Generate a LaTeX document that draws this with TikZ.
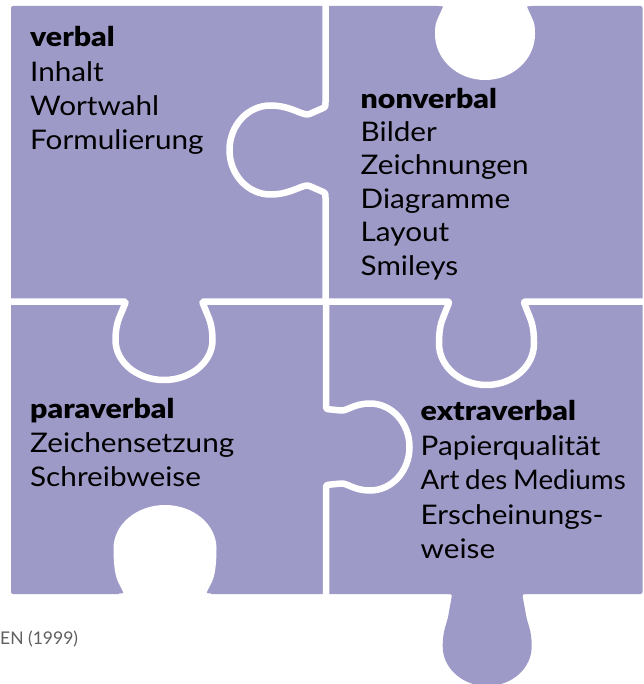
\documentclass[tikz,border=0pt]{standalone}
\usepackage{fontspec}
\setmainfont{Lato}
\newfontfamily\bodyfont{Lato}[FakeStretch=1.1]
\newfontfamily\headfont{Lato Black}[FakeStretch=1.12]
\definecolor{puzzle}{RGB}{158,154,200}
\definecolor{srcgray}{RGB}{95,95,95}
% knob along a horizontal seam: centre, seam y, sign, neck, narrow, narrow depth, bulb, bulb depth, tip depth
\def\KH#1#2#3#4#5#6#7#8#9{%
 -- ({#1-(#4)-5},{#2})
 .. controls ({#1-(#4)},{#2}) .. ({#1-(#4)+0.25*((#4)-(#5))},{#2+(#3)*0.25*(#6)})
 -- ({#1-(#5)},{#2+(#3)*(#6)})
 .. controls ({#1-(#5)+0.4*((#4)-(#5))},{#2+(#3)*1.4*(#6)}) and ({#1-(#7)},{#2+(#3)*((#8)-0.55*((#8)-(#6)))}) .. ({#1-(#7)},{#2+(#3)*(#8)})
 .. controls ({#1-(#7)},{#2+(#3)*((#8)+0.5523*((#9)-(#8)))}) and ({#1-0.5523*(#7)},{#2+(#3)*(#9)}) .. ({#1},{#2+(#3)*(#9)})
 .. controls ({#1+0.5523*(#7)},{#2+(#3)*(#9)}) and ({#1+(#7)},{#2+(#3)*((#8)+0.5523*((#9)-(#8)))}) .. ({#1+(#7)},{#2+(#3)*(#8)})
 .. controls ({#1+(#7)},{#2+(#3)*((#8)-0.55*((#8)-(#6)))}) and ({#1+(#5)-0.4*((#4)-(#5))},{#2+(#3)*1.4*(#6)}) .. ({#1+(#5)},{#2+(#3)*(#6)})
 -- ({#1+(#4)-0.25*((#4)-(#5))},{#2+(#3)*0.25*(#6)})
 .. controls ({#1+(#4)},{#2}) .. ({#1+(#4)+5},{#2})}
% same knob along a vertical seam (coordinates swapped)
\def\KV#1#2#3#4#5#6#7#8#9{%
 -- ({#2},{#1-(#4)-5})
 .. controls ({#2},{#1-(#4)}) .. ({#2+(#3)*0.25*(#6)},{#1-(#4)+0.25*((#4)-(#5))})
 -- ({#2+(#3)*(#6)},{#1-(#5)})
 .. controls ({#2+(#3)*1.4*(#6)},{#1-(#5)+0.4*((#4)-(#5))}) and ({#2+(#3)*((#8)-0.55*((#8)-(#6)))},{#1-(#7)}) .. ({#2+(#3)*(#8)},{#1-(#7)})
 .. controls ({#2+(#3)*((#8)+0.5523*((#9)-(#8)))},{#1-(#7)}) and ({#2+(#3)*(#9)},{#1-0.5523*(#7)}) .. ({#2+(#3)*(#9)},{#1})
 .. controls ({#2+(#3)*(#9)},{#1+0.5523*(#7)}) and ({#2+(#3)*((#8)+0.5523*((#9)-(#8)))},{#1+(#7)}) .. ({#2+(#3)*(#8)},{#1+(#7)})
 .. controls ({#2+(#3)*((#8)-0.55*((#8)-(#6)))},{#1+(#7)}) and ({#2+(#3)*1.4*(#6)},{#1+(#5)-0.4*((#4)-(#5))}) .. ({#2+(#3)*(#6)},{#1+(#5)})
 -- ({#2+(#3)*0.25*(#6)},{#1+(#4)-0.25*((#4)-(#5))})
 .. controls ({#2},{#1+(#4)}) .. ({#2},{#1+(#4)+5})}
\begin{document}
\begin{tikzpicture}[x=1pt,y=-1pt,
  seam/.style={draw=white,line width=6.5pt,line join=round,line cap=round},
  txt/.style={anchor=base west,inner sep=0pt,text=black,font=\bodyfont\fontsize{27}{30}\selectfont},
  head/.style={txt,font=\headfont\fontsize{27}{30}\selectfont},
  src/.style={anchor=base west,inner sep=0pt,text=srcgray,font=\fontsize{17.5}{20}\selectfont}]
\useasboundingbox (0,0) rectangle (643,684);
\clip (0,0) rectangle (643,684);
% silhouette of the four pieces
\fill[puzzle,rounded corners=2pt] (11,6) rectangle (642.5,594);
% tab below "extraverbal"
\fill[puzzle] (447,588) \KH{487.2}{594}{1}{35}{39}{22}{44.5}{52.5}{92} -- (527.2,588) -- cycle;
% blank at the top of "nonverbal"
\fill[white] (438.5,0) \KH{485}{6}{1}{41.5}{47}{12}{50}{28}{74} -- (531.5,0) -- cycle;
% blank at the bottom of "paraverbal"
\fill[white] (119,600) \KH{165}{593.5}{-1}{41}{47}{12}{51.5}{45}{88.5} -- (211,600) -- cycle;
% seams between the pieces
\draw[seam] (325.5,-5) \KV{150}{325.5}{-1}{43}{36}{16}{44.5}{55}{96} -- (325.5,301.5);
\draw[seam] (326,301.5) \KV{447}{326}{1}{38}{36.5}{15}{43.5}{44}{83.5} -- (326,600);
\draw[seam] (-5,301.5) \KH{164}{301.5}{1}{38}{43}{12}{48.5}{38.5}{78.5} -- (326,301.5);
\draw[seam] (325.5,301.5) \KH{486.5}{301.5}{1}{37}{43}{15}{47.5}{42}{83.5} -- (650,301.5);
% texts
\node[head] (verbal) at (30,47) {verbal};
\foreach \t [count=\i] in {Inhalt,Wortwahl,Formulierung}
  \node[txt] (verbal-\i) at (30,{47+34.3*\i}) {\t};
\node[head] (nonverbal) at (360.5,108.3) {nonverbal};
\foreach \t [count=\i] in {Bilder,Zeichnungen,Diagramme,Layout,Smileys}
  \node[txt] (nonverbal-\i) at (360.5,{108.3+33.35*\i}) {\t};
\node[head] (paraverbal) at (30,418.5) {paraverbal};
\foreach \t [count=\i] in {Zeichensetzung,Schreibweise}
  \node[txt] (paraverbal-\i) at (30,{418.5+33.8*\i}) {\t};
\node[head] (extraverbal) at (420.5,420.5) {extraverbal};
\node[txt] (extraverbal-1) at (420.5,455) {Papierqualität};
\node[txt] (extraverbal-2) at (420.5,489.5) {\scalebox{0.935}[1]{Art\hspace{-1.5pt} des\hspace{-1.5pt} Mediums}};
\node[txt] (extraverbal-3) at (420.5,524) {Erscheinungs-};
\node[txt] (extraverbal-4) at (420.5,558.5) {weise};
\node[src] (source) at (0,644.5) {EN (1999)};
\end{tikzpicture}
\end{document}
